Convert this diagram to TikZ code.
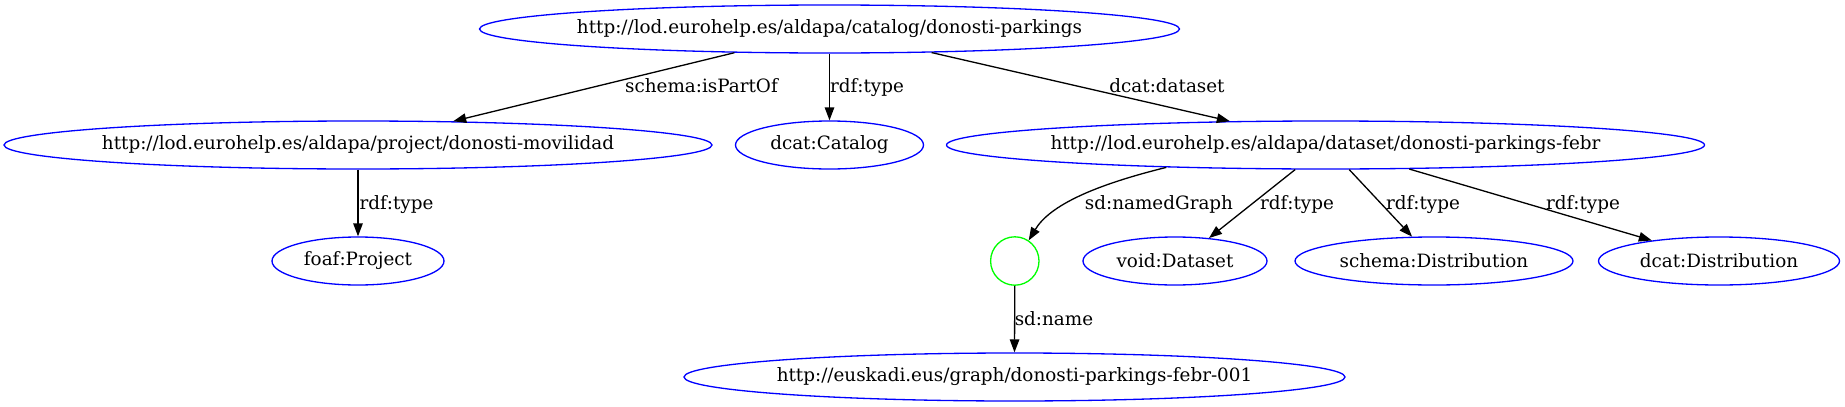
\documentclass[tikz,border=0pt]{standalone}
\usepackage{fontspec}
\setmainfont{DejaVu Serif}
\usetikzlibrary{shapes.geometric,arrows.meta}
\definecolor{gvblue}{RGB}{0,0,255}
\definecolor{gvgreen}{RGB}{0,255,0}
\newcommand{\zw}[1]{\makebox[0pt]{#1}}
\begin{document}
\begin{tikzpicture}[x=1pt,y=-1pt,
  every node/.style={font=\fontsize{18.35}{22}\selectfont},
  res/.style={ellipse,draw=gvblue,line width=1.31pt,inner sep=0pt,minimum height=48pt},
  blank/.style={circle,draw=gvgreen,line width=1.31pt,inner sep=0pt,minimum size=48.4pt},
  edge/.style={draw=black,line width=1.31pt,-{Triangle[length=13pt,width=9.5pt]}},
  elabel/.style={inner sep=0pt,text height=13.9pt,text depth=4.4pt}]
\useasboundingbox (0,0) rectangle (1845,407);
% nodes
\node[res,minimum width=700pt] (top) at (829.5,29) {\zw{http://lod.eurohelp.es/aldapa/catalog/donosti-parkings}};
\node[res,minimum width=708pt] (proj) at (358,145) {\zw{http://lod.eurohelp.es/aldapa/project/donosti-movilidad}};
\node[res,minimum width=188pt] (cat) at (829.5,145) {\zw{dcat:Catalog}};
\node[res,minimum width=758pt] (ds) at (1325.5,145) {\zw{http://lod.eurohelp.es/aldapa/dataset/donosti-parkings-febr}};
\node[res,minimum width=172pt] (foaf) at (358,261) {\zw{foaf:Project}};
\node[blank] (bn) at (1014.8,261) {};
\node[res,minimum width=184pt] (void) at (1175,261) {\zw{void:Dataset}};
\node[res,minimum width=278pt] (sdist) at (1434,261) {\zw{schema:Distribution}};
\node[res,minimum width=241pt] (ddist) at (1719,261) {\zw{dcat:Distribution}};
\node[res,minimum width=661pt] (gr) at (1014.5,377) {\zw{http://euskadi.eus/graph/donosti-parkings-febr-001}};
% edges
\draw[edge] (top.-166) -- (proj.14);
\draw[edge] (top.south) -- (cat.north);
\draw[edge] (top.-13.5) -- (ds.166.5);
\draw[edge] (proj.south) -- (foaf.north);
\draw[edge] (ds.-172.8) .. controls (1095,185) and (1050,205) .. (bn.56);
\draw[edge] (ds.-141.9) -- (void.34.2);
\draw[edge] (ds.-46.7) -- (sdist.132.9);
\draw[edge] (ds.-16.9) -- (ddist.163.1);
\draw[edge] (bn.south) -- (gr.north);
% edge labels
\node[elabel] (l1) at (701.5,87.5) {schema:isPartOf};
\node[elabel] (l2) at (867,87.5) {rdf:type};
\node[elabel] (l3) at (1167,87.5) {dcat:dataset};
\node[elabel] (l4) at (396.5,204.5) {rdf:type};
\node[elabel] (l5) at (1159,204.5) {sd:namedGraph};
\node[elabel] (l6) at (1297,204.5) {rdf:type};
\node[elabel] (l7) at (1423,204.5) {rdf:type};
\node[elabel] (l8) at (1583,204.5) {rdf:type};
\node[elabel] (l9) at (1054,320.5) {sd:name};
\end{tikzpicture}
\end{document}
